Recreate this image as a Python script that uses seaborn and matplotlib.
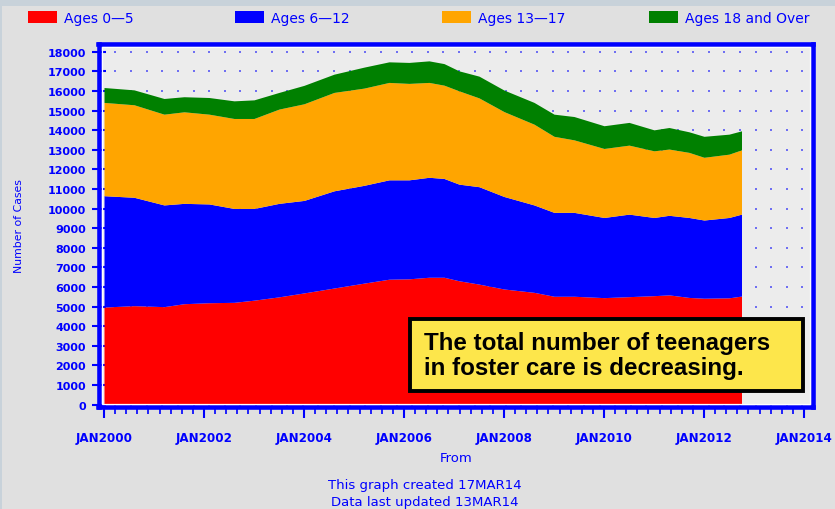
import numpy as np
import matplotlib
matplotlib.use("Agg")
import matplotlib.pyplot as plt
import seaborn as sns
from matplotlib.patches import Rectangle
from matplotlib.ticker import AutoMinorLocator

# Foster care cases by age group
dates = [2000.0, 2000.6, 2001.2, 2001.6, 2002.1, 2002.6, 2003.0, 2003.5,
         2004.0, 2004.6, 2005.2, 2005.7, 2006.1, 2006.5, 2006.8, 2007.1,
         2007.5, 2008.0, 2008.6, 2009.0, 2009.4, 2010.0, 2010.5, 2011.0,
         2011.3, 2011.7, 2012.0, 2012.5, 2012.75]
ages_0_5 = [4980, 5050, 5000, 5150, 5200, 5220, 5330, 5500, 5700, 5950,
            6200, 6400, 6420, 6500, 6500, 6320, 6150, 5900, 5730, 5530,
            5530, 5460, 5510, 5560, 5600, 5470, 5430, 5450, 5540]
ages_6_12 = [5680, 5530, 5190, 5120, 5040, 4790, 4680, 4770, 4720, 4960,
             4990, 5070, 5050, 5100, 5040, 4930, 4970, 4720, 4460, 4280,
             4280, 4090, 4210, 3990, 4060, 4080, 3990, 4100, 4180]
ages_13_17 = [4760, 4720, 4630, 4670, 4580, 4590, 4590, 4810, 4930, 5020,
              4960, 4970, 4920, 4840, 4760, 4760, 4530, 4330, 4120, 3880,
              3700, 3520, 3520, 3400, 3380, 3320, 3200, 3230, 3280]
ages_18_over = [760, 760, 800, 770, 850, 900, 950, 850, 940, 930,
                1070, 1050, 1070, 1100, 1100, 1020, 1110, 1100, 1110, 1130,
                1190, 1160, 1160, 1070, 1100, 1050, 1070, 1020, 970]

series_labels = ["Ages 0\u20145", "Ages 6\u201412", "Ages 13\u201417", "Ages 18 and Over"]
series_colors = ["#ff0000", "#0000ff", "#ffa500", "#008000"]
xtick_years = [2000, 2002, 2004, 2006, 2008, 2010, 2012, 2014]
ytick_values = list(range(0, 19000, 1000))

BLUE = "#0000ff"
W, H = 835, 510

sns.set_theme(style="white")
plt.rcParams["font.family"] = ["DejaVu Sans"]

fig = plt.figure(figsize=(W / 100, H / 100), dpi=100, facecolor="#e0e0e0")
# thin darker strips at the top and left edge
fig.patches.append(Rectangle((0, 1 - 7 / H), 1, 7 / H, transform=fig.transFigure,
                             facecolor="#c8d2da", edgecolor="none", zorder=0))
fig.patches.append(Rectangle((0, 0), 2 / W, 1, transform=fig.transFigure,
                             facecolor="#c8d2da", edgecolor="none", zorder=0))

ax = fig.add_axes([98.5 / W, 1 - 408 / H, 714.5 / W, 363 / H])
ax.set_facecolor("#ececec")

# dotted background pattern
dot_x, dot_y = np.meshgrid(np.linspace(2000.23, 2013.97, 45), ytick_values)
ax.scatter(dot_x.ravel(), dot_y.ravel(), s=2, color="#6f6ff2", marker="s",
           linewidths=0, zorder=1)

handles = ax.stackplot(dates, ages_0_5, ages_6_12, ages_13_17, ages_18_over,
                       colors=series_colors, labels=series_labels, zorder=2,
                       linewidth=0)

ax.set_xlim(1999.89, 2014.18)
ax.set_ylim(-120, 18400)

ax.set_xticks(xtick_years)
ax.set_xticklabels([f"JAN{y}" for y in xtick_years])
ax.xaxis.set_minor_locator(AutoMinorLocator(9))
ax.set_yticks(ytick_values)
ax.set_yticklabels([str(v) for v in ytick_values])

ax.tick_params(axis="x", which="major", direction="out", length=8, width=1.5,
               color=BLUE, labelcolor=BLUE, labelsize=8.6, pad=9)
ax.tick_params(axis="x", which="minor", direction="out", length=5, width=1.2,
               color=BLUE)
ax.tick_params(axis="y", which="major", direction="inout", length=10, width=1.5,
               color=BLUE, labelcolor=BLUE, labelsize=8, pad=4)
for lab in ax.get_xticklabels() + ax.get_yticklabels():
    lab.set_fontweight("bold")
ax.tick_params(bottom=True, left=True, which="both")
ax.tick_params(axis="y", which="minor", left=False)

for sp in ax.spines.values():
    sp.set_visible(True)
    sp.set_color(BLUE)
    sp.set_linewidth(3.3)
# thin white line just inside the frame
ax.add_patch(Rectangle((0.0045, 0.009), 0.991, 0.982, transform=ax.transAxes,
                       fill=False, edgecolor="white", linewidth=0.9, zorder=4))

ax.set_ylabel("Number of Cases", color=BLUE, fontsize=7.8)
ax.yaxis.set_label_coords((24 - 98.5) / 714.5, 0.5)
ax.set_xlabel("From", color=BLUE, fontsize=9.5)
ax.xaxis.set_label_coords(0.5, (408 - 452) / 363)

# annotation box
box_x0, box_x1, box_y0, box_y1 = 410, 803, 320, 392
ax.add_patch(Rectangle(((box_x0 - 98.5) / 714.5, (408 - box_y1) / 363),
                       (box_x1 - box_x0) / 714.5, (box_y1 - box_y0) / 363,
                       transform=ax.transAxes, facecolor="#fde64b",
                       edgecolor="black", linewidth=2.8, zorder=5))
ax.text((424 - 98.5) / 714.5, (408 - 356) / 363,
        "The total number of teenagers\nin foster care is decreasing.",
        transform=ax.transAxes, ha="left", va="center", fontsize=17.4,
        fontweight="bold", family=["Liberation Sans", "DejaVu Sans"],
        color="black", linespacing=1.1, zorder=6)

# legend, one entry at each fixed slot
legend_x = [28, 235, 442, 649]
for h, lab, x0 in zip(handles, series_labels, legend_x):
    fig.legend([h], [lab], loc="center left", bbox_to_anchor=(x0 / W, 1 - 18.5 / H),
               frameon=False, fontsize=10, labelcolor=BLUE, handlelength=2.1,
               handleheight=0.95, handletextpad=0.5, borderpad=0, borderaxespad=0)

fig.text(425 / W, 1 - 486 / H, "This graph created 17MAR14", color=BLUE,
         fontsize=9.5, ha="center", va="center")
fig.text(425 / W, 1 - 503 / H, "Data last updated 13MAR14", color=BLUE,
         fontsize=9.5, ha="center", va="center")

fig.savefig("out.png", dpi=100, facecolor=fig.get_facecolor())
